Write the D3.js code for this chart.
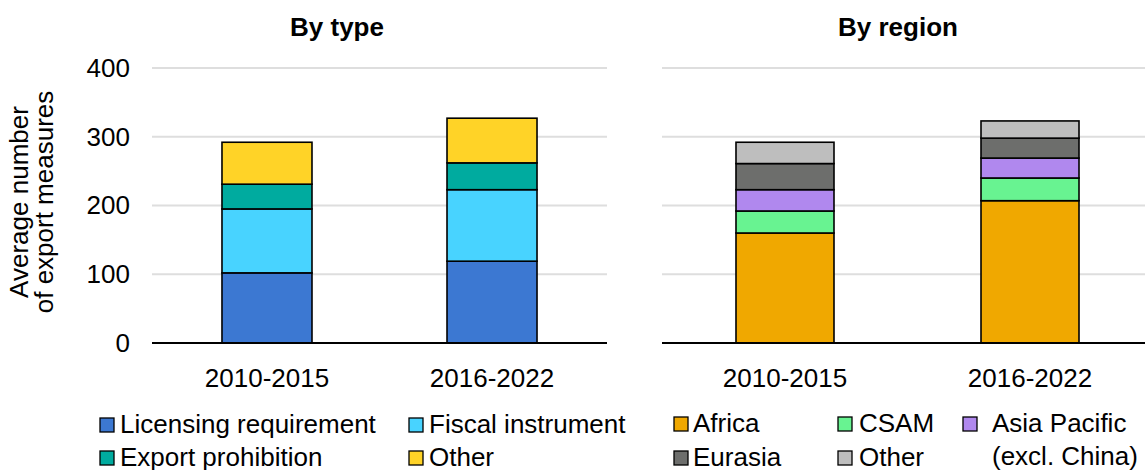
<!DOCTYPE html>
<html>
<head>
<meta charset="utf-8">
<script src="https://cdn.jsdelivr.net/npm/d3@7"></script>
<style>
  body { margin: 0; background: #fff; }
  svg { font-family: "Liberation Sans", Arial, sans-serif; }
</style>
</head>
<body>
<svg id="chart" width="1145" height="470"></svg>
<script>
var periods = ["2010-2015", "2016-2022"];
var yTicks = [0, 100, 200, 300, 400];

// by type
var typeKeys = ["Licensing requirement", "Fiscal instrument", "Export prohibition", "Other"];
var typeColors = ["#3c78d2", "#48d3ff", "#00ab9f", "#ffd327"];
var licensing = [102, 119];
var fiscal = [93, 104];
var prohibition = [36, 39];
var typeOther = [61, 65];

// by region
var regionKeys = ["Africa", "CSAM", "Asia Pacific (excl. China)", "Eurasia", "Other"];
var regionColors = ["#f0a800", "#68f391", "#b088ee", "#6d6e6c", "#bebebe"];
var africa = [160, 207];
var csam = [32, 33];
var asiaPacific = [31, 29];
var eurasia = [38, 29];
var regionOther = [31, 25];

var svg = d3.select("#chart");
var y = d3.scaleLinear().domain([0, 400]).range([343, 68]);

function buildRows(keys, series) {
  return periods.map(function(p, i) {
    var row = { period: p };
    keys.forEach(function(k, j) { row[k] = series[j][i]; });
    return row;
  });
}

function drawPanel(opts) {
  var x = d3.scaleBand()
            .domain(periods)
            .range([opts.x0, opts.bandEnd])
            .paddingInner(0.6)
            .paddingOuter(opts.padOut);

  var g = svg.append("g");

  // gridlines
  g.selectAll(".grid")
    .data(yTicks.slice(1))
    .enter()
    .append("line")
      .attr("x1", opts.x0)
      .attr("x2", opts.x1)
      .attr("y1", d => y(d))
      .attr("y2", d => y(d))
      .attr("stroke", "#dedede")
      .attr("stroke-width", 2);

  var stack = d3.stack().keys(opts.keys)(buildRows(opts.keys, opts.series));

  g.selectAll(".layer")
    .data(stack)
    .enter()
    .append("g")
      .attr("fill", (d, i) => opts.colors[i])
    .selectAll("rect")
    .data(d => d)
    .enter()
    .append("rect")
      .attr("x", d => x(d.data.period))
      .attr("width", x.bandwidth())
      .attr("y", d => y(d[1]))
      .attr("height", d => y(d[0]) - y(d[1]))
      .attr("stroke", "#000")
      .attr("stroke-width", 1.6);

  // baseline
  g.append("line")
    .attr("x1", opts.x0)
    .attr("x2", opts.x1)
    .attr("y1", y(0))
    .attr("y2", y(0))
    .attr("stroke", "#000")
    .attr("stroke-width", 2.2);

  // category labels
  var xAxis = g.append("g")
    .attr("transform", "translate(0," + y(0) + ")")
    .call(d3.axisBottom(x).tickSize(0).tickPadding(26));
  xAxis.select(".domain").remove();
  xAxis.selectAll("text")
    .attr("font-size", 26)
    .attr("font-family", "Liberation Sans, Arial, sans-serif")
    .attr("fill", "#000");

  // title
  g.append("text")
    .attr("x", opts.titleX)
    .attr("y", 36)
    .attr("text-anchor", "middle")
    .attr("font-size", 26)
    .attr("font-weight", "bold")
    .text(opts.title);
}

drawPanel({
  x0: 152, x1: 607, bandEnd: 607, padOut: 0.311,
  keys: typeKeys, colors: typeColors,
  series: [licensing, fiscal, prohibition, typeOther],
  title: "By type", titleX: 337
});

drawPanel({
  x0: 662, x1: 1145, bandEnd: 1153, padOut: 0.302,
  keys: regionKeys, colors: regionColors,
  series: [africa, csam, asiaPacific, eurasia, regionOther],
  title: "By region", titleX: 898
});

// y axis ticks (left panel only)
var yAxis = svg.append("g")
  .attr("transform", "translate(130,0)")
  .call(d3.axisLeft(y).tickValues(yTicks).tickSize(0).tickPadding(0));
yAxis.select(".domain").remove();
yAxis.selectAll("text")
  .attr("font-size", 26)
  .attr("font-family", "Liberation Sans, Arial, sans-serif")
  .attr("fill", "#000");

// y axis title
var yTitle = svg.append("text")
  .attr("transform", "translate(0,202) rotate(-90)")
  .attr("text-anchor", "middle")
  .attr("font-size", 26);
yTitle.append("tspan").attr("x", 0).attr("y", 28).text("Average number");
yTitle.append("tspan").attr("x", 0).attr("y", 53).text("of export measures");

// legends
var typeLegend = [
  { label: ["Licensing requirement"], color: typeColors[0], x: 100, y: 433, gap: 20 },
  { label: ["Fiscal instrument"], color: typeColors[1], x: 409, y: 433, gap: 20 },
  { label: ["Export prohibition"], color: typeColors[2], x: 100, y: 466, gap: 20 },
  { label: ["Other"], color: typeColors[3], x: 409, y: 466, gap: 20 }
];
var regionLegend = [
  { label: ["Africa"], color: regionColors[0], x: 674, y: 432, gap: 19 },
  { label: ["CSAM"], color: regionColors[1], x: 838, y: 432, gap: 21 },
  { label: ["Asia Pacific", "(excl. China)"], color: regionColors[2], x: 963, y: 432, gap: 29 },
  { label: ["Eurasia"], color: regionColors[3], x: 674, y: 466, gap: 19 },
  { label: ["Other"], color: regionColors[4], x: 838, y: 466, gap: 21 }
];

function drawLegend(items) {
  var lg = svg.append("g")
    .selectAll("g")
    .data(items)
    .enter()
    .append("g")
      .attr("transform", d => "translate(" + d.x + "," + d.y + ")");
  lg.append("rect")
    .attr("x", 0)
    .attr("y", -15)
    .attr("width", 14)
    .attr("height", 14)
    .attr("fill", d => d.color)
    .attr("stroke", "#000")
    .attr("stroke-width", 1.3);
  var t = lg.append("text")
    .attr("font-size", 26)
    .attr("y", 0);
  t.selectAll("tspan")
    .data(d => d.label.map(s => ({ s: s, gap: d.gap })))
    .enter()
    .append("tspan")
      .attr("x", d => d.gap)
      .attr("dy", (d, i) => i === 0 ? 0 : 33)
      .text(d => d.s);
}

drawLegend(typeLegend);
drawLegend(regionLegend);
</script>
</body>
</html>
